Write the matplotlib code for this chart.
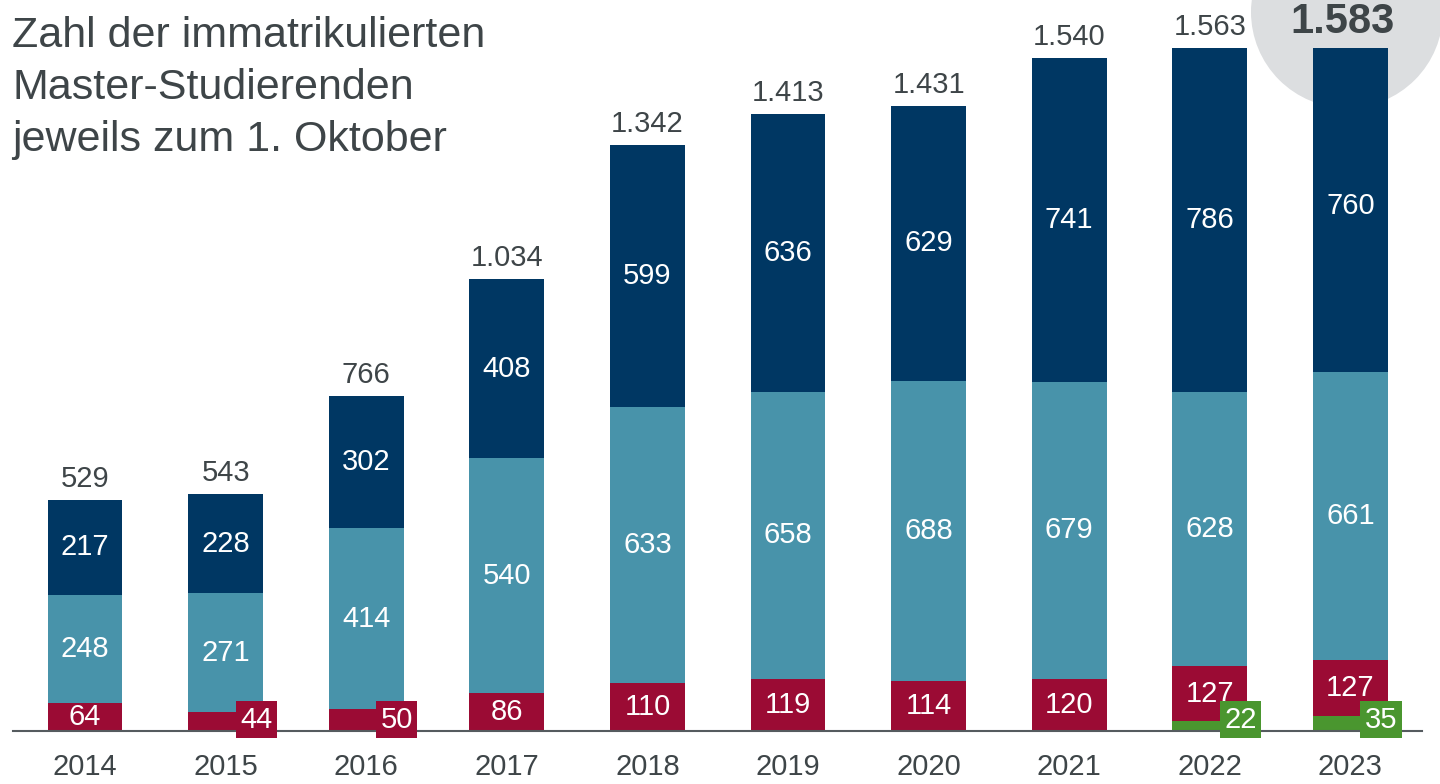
import matplotlib.pyplot as plt
from matplotlib.patches import Ellipse
import numpy as np

plt.rcParams['font.family'] = ['Liberation Sans', 'DejaVu Sans']

years = ['2014', '2015', '2016', '2017', '2018', '2019', '2020', '2021', '2022', '2023']
green = [0, 0, 0, 0, 0, 0, 0, 0, 22, 35]
red = [64, 44, 50, 86, 110, 119, 114, 120, 127, 127]
teal = [248, 271, 414, 540, 633, 658, 688, 679, 628, 661]
navy = [217, 228, 302, 408, 599, 636, 629, 741, 786, 760]
totals = [529, 543, 766, 1034, 1342, 1413, 1431, 1540, 1563, 1583]

c_green = '#4a962f'
c_red = '#9b0b34'
c_teal = '#4893aa'
c_navy = '#003763'
c_text = '#3e4548'

fig = plt.figure(figsize=(14.4, 7.84), dpi=100)
# axes top sits at the tallest drawn bar, so the 2023 bar is cut under the circle
ax = fig.add_axes([0, 0, 1, 736 / 784])
ax.set_xlim(-0.6046, 9.637)
ax.set_ylim(-121.4, 1564)
ax.axis('off')

# grey circle behind the latest total
circ = Ellipse((1347 / 1440, 1 - 12 / 784), 2 * 96 / 1440, 2 * 96 / 784,
               transform=fig.transFigure, fc='#dcdee0', ec='none', zorder=0.5, clip_on=False)
ax.add_patch(circ)

x = np.arange(len(years))
w = 0.533
bottom = np.zeros(len(years))
for vals, col, small in [(green, c_green, 60), (red, c_red, 60), (teal, c_teal, 0), (navy, c_navy, 0)]:
    vals = np.array(vals)
    ax.bar(x, vals, w, bottom=bottom, color=col, zorder=2)
    for i, v in enumerate(vals):
        if v == 0:
            continue
        if v < small:
            ax.annotate(f'{v}', xy=(x[i] + w / 2 - 0.05, 0), xytext=(0, -2), textcoords='offset points',
                        ha='center', va='bottom', fontsize=21, color='white', zorder=4,
                        bbox=dict(boxstyle='square,pad=0.15', fc=col, ec='none'))
        else:
            ax.text(x[i], bottom[i] + v / 2, f'{v}', ha='center', va='center',
                    fontsize=21, color='white', zorder=3)
    bottom += vals

for i, t in enumerate(totals):
    lab = f'{t:,}'.replace(',', '.')
    if i == len(totals) - 1:
        ax.annotate(lab, xy=(x[i], t), xytext=(-6, 5), textcoords='offset points',
                    ha='center', va='baseline', fontsize=30, fontweight='bold',
                    color=c_text, zorder=3, annotation_clip=False)
    else:
        ax.annotate(lab, xy=(x[i], t), xytext=(0, 9.5), textcoords='offset points',
                    ha='center', va='baseline', fontsize=21, color=c_text, zorder=3,
                    annotation_clip=False)

for i, y in enumerate(years):
    ax.text(x[i], -83, y, ha='center', va='center', fontsize=21, color=c_text)

ax.axhline(0, xmin=13 / 1440, xmax=1422 / 1440, color='#555b5f', lw=1.5, zorder=3)

fig.text(12 / 1440, 1 - 16 / 784,
         'Zahl der immatrikulierten\nMaster-Studierenden\njeweils zum 1. Oktober',
         ha='left', va='top', fontsize=31, color=c_text, linespacing=1.38)

plt.savefig('out.png', dpi=100)
plt.close()
